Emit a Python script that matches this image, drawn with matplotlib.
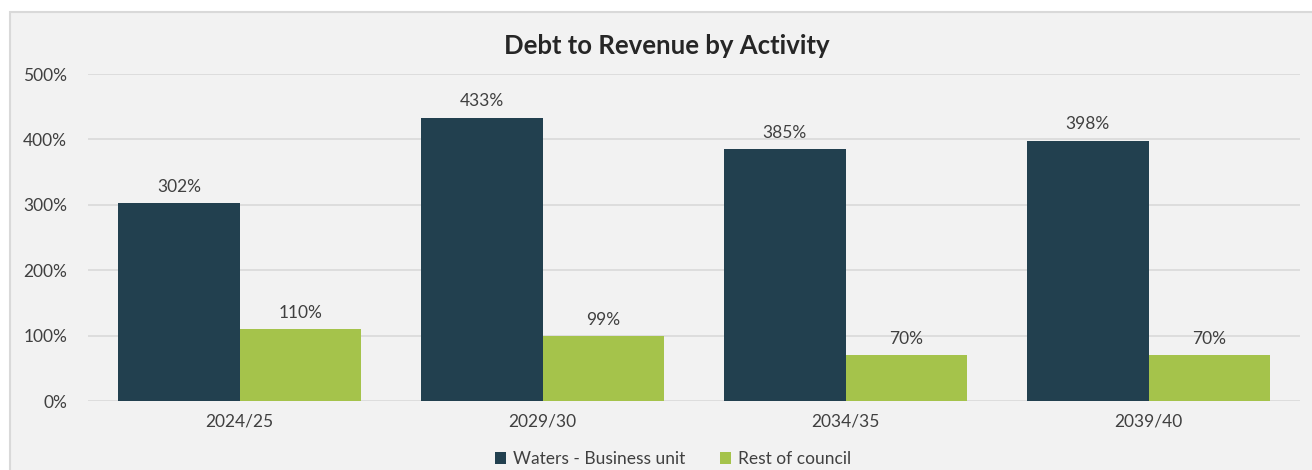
import matplotlib.pyplot as plt
from matplotlib.patches import Rectangle
import numpy as np

# data
years = ['2024/25', '2029/30', '2034/35', '2039/40']
waters = [302, 433, 385, 398]
rest = [110, 99, 70, 70]

dark = '#22404f'
green = '#a5c34b'
txt = '#404040'

plt.rcParams['font.family'] = ['Lato', 'DejaVu Sans']

fig = plt.figure(figsize=(13.12, 4.70), dpi=100)
fig.patch.set_facecolor('white')
# chart frame (light grey panel with border, running past right/bottom edges)
fig.patches.append(Rectangle((10 / 1312, -0.05), 1.1, (470 - 12) / 470 + 0.05,
                             transform=fig.transFigure, facecolor='#f2f2f2',
                             edgecolor='#d9d9d9', linewidth=1.5, zorder=-1))

ax = fig.add_axes([88 / 1312, 69 / 470, 1212 / 1312, 327 / 470])
ax.set_facecolor('none')

x = np.arange(len(years))
w = 0.4
b1 = ax.bar(x - w / 2, waters, w, color=dark, label='Waters - Business unit', zorder=3)
b2 = ax.bar(x + w / 2, rest, w, color=green, label='Rest of council', zorder=3)

for bars, vals in ((b1, waters), (b2, rest)):
    for b, v in zip(bars, vals):
        ax.annotate(f'{v}%', (b.get_x() + b.get_width() / 2, v), xytext=(0, 6),
                    textcoords='offset points', ha='center', va='bottom',
                    fontsize=12.5, color=txt)

ax.set_xlim(-0.5, 3.5)
ax.set_ylim(0, 500)
ax.set_yticks(range(0, 501, 100))
ax.set_yticklabels([f'{t}%' for t in range(0, 501, 100)])
ax.set_xticks(x)
ax.set_xticklabels(years)
ax.tick_params(length=0, labelsize=12.5, labelcolor=txt)
ax.tick_params(axis='y', pad=15)
ax.tick_params(axis='x', pad=9)
ax.grid(axis='y', color='#d9d9d9', linewidth=1.2, zorder=0)
for s in ax.spines.values():
    s.set_visible(False)

fig.text(667 / 1312, 1 - 46 / 470, 'Debt to Revenue by Activity', ha='center', va='center',
         fontsize=18.5, fontweight='bold', color='#262626')

fig.legend(loc='center', bbox_to_anchor=(673 / 1312, 1 - 459 / 470), ncol=2, frameon=False,
           fontsize=12.5, labelcolor=txt, handlelength=0.65, handleheight=0.65,
           handletextpad=0.4, columnspacing=2.0)

fig.savefig('out.png', dpi=100)
